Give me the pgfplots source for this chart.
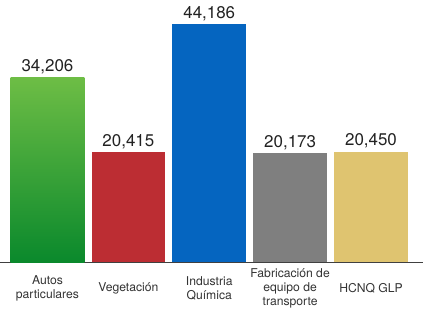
\documentclass[border=0pt]{standalone}
\usepackage{pgfplots}
\pgfplotsset{compat=1.18}
\usepackage{fontspec}
\setmainfont{TeX Gyre Heros}
\definecolor{gtop}{HTML}{6DBD45}
\definecolor{gbot}{HTML}{0A892C}
\definecolor{cred}{HTML}{BC2D33}
\definecolor{cblue}{HTML}{0565C0}
\definecolor{cgray}{HTML}{7F7F7F}
\definecolor{cyel}{HTML}{DFC470}
\definecolor{txt}{HTML}{222222}
\definecolor{lbl}{HTML}{333333}
\begin{document}
\begin{tikzpicture}
\path[use as bounding box] (0,-47bp) rectangle (423bp,262bp);
\begin{axis}[
  scale only axis,
  width=423bp, height=262bp,
  xmin=-0.587, xmax=4.643,
  ymin=0, ymax=48700,
  axis x line*=bottom,
  axis y line=none,
  x axis line style={draw=black!75, line width=0.8pt},
  xtick={0,1,2,3,4},
  xticklabels={{Autos\\particulares},{Vegetación},{Industria\\Química},{Fabricación de\\equipo de\\transporte},{HCNQ GLP}},
  major tick length=0pt,
  xticklabel style={anchor=center, yshift=-26bp, align=center, text=lbl,
    font=\fontsize{12.2}{14}\selectfont},
  ybar, bar width=0.91, bar shift=0pt,
  point meta=explicit symbolic,
  nodes near coords,
  every node near coord/.style={anchor=base, yshift=6bp, text=txt,
    font=\fontsize{17}{20}\selectfont},
  clip=false,
]
\addplot[draw=none, shading=axis, top color=gtop, bottom color=gbot, shading angle=0] coordinates {(0,34206) [34,206]};
\addplot[draw=none, fill=cred] coordinates {(1,20415) [20,415]};
\addplot[draw=none, fill=cblue] coordinates {(2,44186) [44,186]};
\addplot[draw=none, fill=cgray] coordinates {(3,20173) [20,173]};
\addplot[draw=none, fill=cyel] coordinates {(4,20450) [20,450]};
\end{axis}
\end{tikzpicture}
\end{document}
